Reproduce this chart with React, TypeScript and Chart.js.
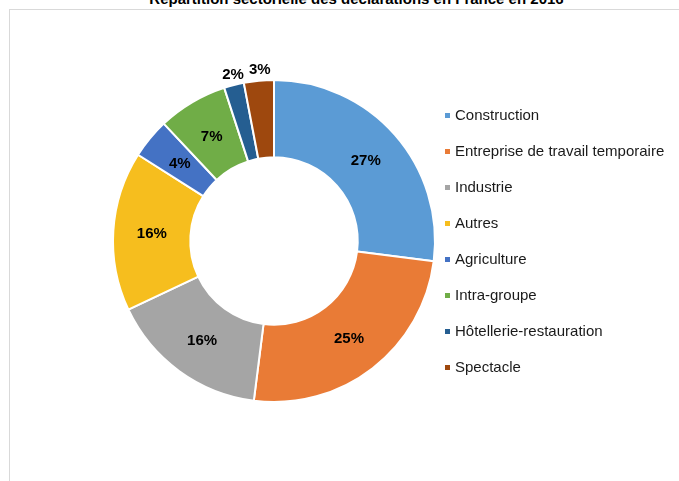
import React, { useEffect, useRef } from "react";
import { Chart, registerables } from "chart.js";

Chart.register(...registerables);

const titleText = "Répartition sectorielle des déclarations en France en 2016";
const categories = [
  "Construction",
  "Entreprise de travail temporaire",
  "Industrie",
  "Autres",
  "Agriculture",
  "Intra-groupe",
  "Hôtellerie-restauration",
  "Spectacle",
];
const shares = [27, 25, 16, 16, 4, 7, 2, 3];
const colors = [
  "#5B9BD5",
  "#E97B36",
  "#A5A5A5",
  "#F6BE1E",
  "#4472C4",
  "#70AD47",
  "#255E91",
  "#9E480E",
];

const FONT = "Arial, 'Liberation Sans', sans-serif";

const labelPlugin = {
  id: "sliceLabels",
  afterDatasetsDraw(chart: any) {
    const ctx = chart.ctx;
    const meta = chart.getDatasetMeta(0);
    const data = chart.data.datasets[0].data as number[];
    ctx.save();
    ctx.font = `bold 15px ${FONT}`;
    ctx.fillStyle = "#000";
    ctx.textAlign = "center";
    ctx.textBaseline = "middle";
    meta.data.forEach((arc: any, i: number) => {
      const p = arc.getProps(["x", "y", "startAngle", "endAngle", "innerRadius", "outerRadius"], true);
      const mid = (p.startAngle + p.endAngle) / 2;
      const outside = data[i] < 3.5;
      const r = outside ? p.outerRadius + 12 : (p.innerRadius + p.outerRadius) / 2;
      const dx = outside ? 2 : 0;
      ctx.fillText(`${data[i]}%`, p.x + Math.cos(mid) * r + dx, p.y + Math.sin(mid) * r + 1);
    });
    ctx.restore();
  },
};

const legendPlugin = {
  id: "sideLegend",
  afterDraw(chart: any) {
    const ctx = chart.ctx;
    const labels = chart.data.labels as string[];
    const bg = chart.data.datasets[0].backgroundColor as string[];
    ctx.save();
    ctx.font = `15px ${FONT}`;
    ctx.textBaseline = "middle";
    ctx.textAlign = "left";
    labels.forEach((lab, i) => {
      const y = 116 + i * 36;
      ctx.fillStyle = bg[i];
      ctx.fillRect(445, y - 3, 5, 5);
      ctx.fillStyle = "#1a1a1a";
      ctx.fillText(lab, 455, y);
    });
    ctx.restore();
  },
};

export default function App() {
  const ref = useRef<HTMLCanvasElement | null>(null);
  useEffect(() => {
    if (!ref.current) return;
    const chart = new Chart(ref.current, {
      type: "doughnut",
      data: {
        labels: categories,
        datasets: [
          {
            data: shares,
            backgroundColor: colors,
            borderColor: "#ffffff",
            borderWidth: 2,
          },
        ],
      },
      options: {
        animation: false,
        responsive: false,
        cutout: "52%",
        layout: { padding: { left: 112, right: 243, top: 79, bottom: 78 } },
        plugins: {
          legend: { display: false },
          tooltip: { enabled: false },
          title: { display: false },
        },
      },
      plugins: [labelPlugin, legendPlugin],
    });
    return () => chart.destroy();
  }, []);

  return (
    <div style={{ position: "fixed", left: 0, top: 0, width: 679, height: 481, overflow: "hidden", background: "#fff" }}>
      <div
        style={{
          position: "absolute",
          left: 9,
          top: 9,
          width: 720,
          height: 520,
          border: "1px solid #d9d9d9",
          boxSizing: "border-box",
        }}
      />
      <div
        style={{
          position: "absolute",
          left: 9,
          top: -10,
          width: 695,
          textAlign: "center",
          font: `bold 15px ${FONT}`,
          lineHeight: "17px",
          color: "#000",
          whiteSpace: "nowrap",
        }}
      >
        {titleText}
      </div>
      <canvas ref={ref} width={679} height={481} style={{ position: "absolute", left: 0, top: 0 }} />
    </div>
  );
}
